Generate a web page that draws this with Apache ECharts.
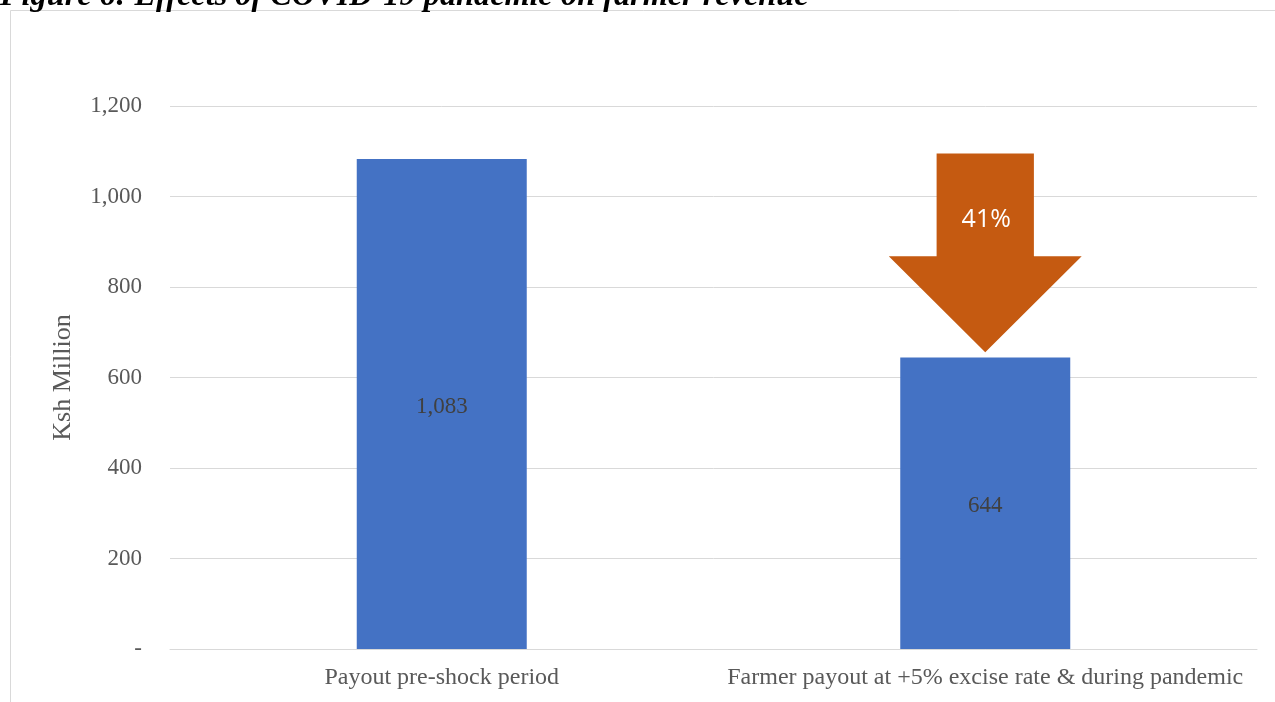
<!DOCTYPE html>
<html>
<head>
<meta charset="utf-8">
<script src="https://cdn.jsdelivr.net/npm/echarts@6/dist/echarts.min.js"></script>
<style>
  html, body { margin: 0; padding: 0; background: #fff; }
  #chart { width: 1275px; height: 702px; }
</style>
</head>
<body>
<div id="chart"></div>
<script>
// Farmer payout before and during the pandemic (Ksh Million)
const categories = ['Payout pre-shock period', 'Farmer payout at +5% excise rate & during pandemic'];
const payout = [1083, 644];
const yTicks = [0, 200, 400, 600, 800, 1000, 1200];

// Drop indicator over the second bar: [category index, top, head base, tip]
const dropLabel = '41%';
const dropArrow = [[1, 1095, 868, 656]];

const serif = '"Liberation Serif", "Times New Roman", serif';
const chart = echarts.init(document.getElementById('chart'));

chart.setOption({
  backgroundColor: '#ffffff',
  animation: false,
  graphic: [
    {
      type: 'rect',
      shape: { x: 10.5, y: 10.5, width: 1280, height: 720 },
      style: { fill: 'none', stroke: '#D9D9D9', lineWidth: 1 },
      silent: true
    },
    {
      type: 'text',
      left: 0,
      top: -19,
      style: {
        text: 'Figure 6: Effects of COVID-19 pandemic on farmer revenue',
        font: 'italic bold 32.3px ' + serif,
        fill: '#000000'
      }
    }
  ],
  grid: { left: 170, right: 18, top: 106, bottom: 53 },
  xAxis: {
    type: 'category',
    data: categories,
    axisTick: { show: false },
    axisLine: { lineStyle: { color: '#D9D9D9', width: 1 } },
    axisLabel: {
      interval: 0, hideOverlap: false,
      color: '#595959', fontFamily: serif, fontSize: 24, margin: 17
    }
  },
  yAxis: {
    type: 'value',
    min: yTicks[0],
    max: yTicks[yTicks.length - 1],
    interval: yTicks[1] - yTicks[0],
    name: 'Ksh Million',
    nameLocation: 'middle',
    nameGap: 94,
    nameTextStyle: { color: '#595959', fontFamily: serif, fontSize: 26 },
    axisLine: { show: false },
    axisTick: { show: false },
    splitLine: { lineStyle: { color: '#D9D9D9', width: 1 } },
    axisLabel: {
      color: '#595959', fontFamily: serif, fontSize: 23, margin: 28,
      formatter: v => v === 0 ? '-' : v.toLocaleString('en-US')
    }
  },
  series: [
    {
      type: 'bar',
      data: payout,
      barWidth: 170,
      itemStyle: { color: '#4472C4' },
      label: {
        show: true,
        position: 'inside',
        offset: [0, 3],
        color: '#404040',
        fontFamily: serif,
        fontSize: 23,
        formatter: p => p.value.toLocaleString('en-US')
      },
      z: 2
    },
    {
      type: 'custom',
      data: dropArrow,
      z: 5,
      renderItem: (params, api) => {
        const cx = api.coord([api.value(0), 0])[0];
        const band = api.size([1, 0])[0];
        const yTop = api.coord([0, api.value(1)])[1];
        const yHead = api.coord([0, api.value(2)])[1];
        const yTip = api.coord([0, api.value(3)])[1];
        const shaft = band * 0.179 / 2;
        const head = band * 0.355 / 2;
        return {
          type: 'group',
          children: [
            {
              type: 'polygon',
              shape: {
                points: [
                  [cx - shaft, yTop], [cx + shaft, yTop], [cx + shaft, yHead],
                  [cx + head, yHead], [cx, yTip], [cx - head, yHead],
                  [cx - shaft, yHead]
                ]
              },
              style: { fill: '#C55A11' }
            },
            {
              type: 'text',
              style: {
                text: dropLabel,
                x: cx + 1,
                y: (yTop + yHead) / 2 + 15,
                align: 'center',
                verticalAlign: 'middle',
                fill: '#ffffff',
                font: '25px "Open Sans", "Noto Sans", sans-serif'
              }
            }
          ]
        };
      }
    }
  ]
});
</script>
</body>
</html>
